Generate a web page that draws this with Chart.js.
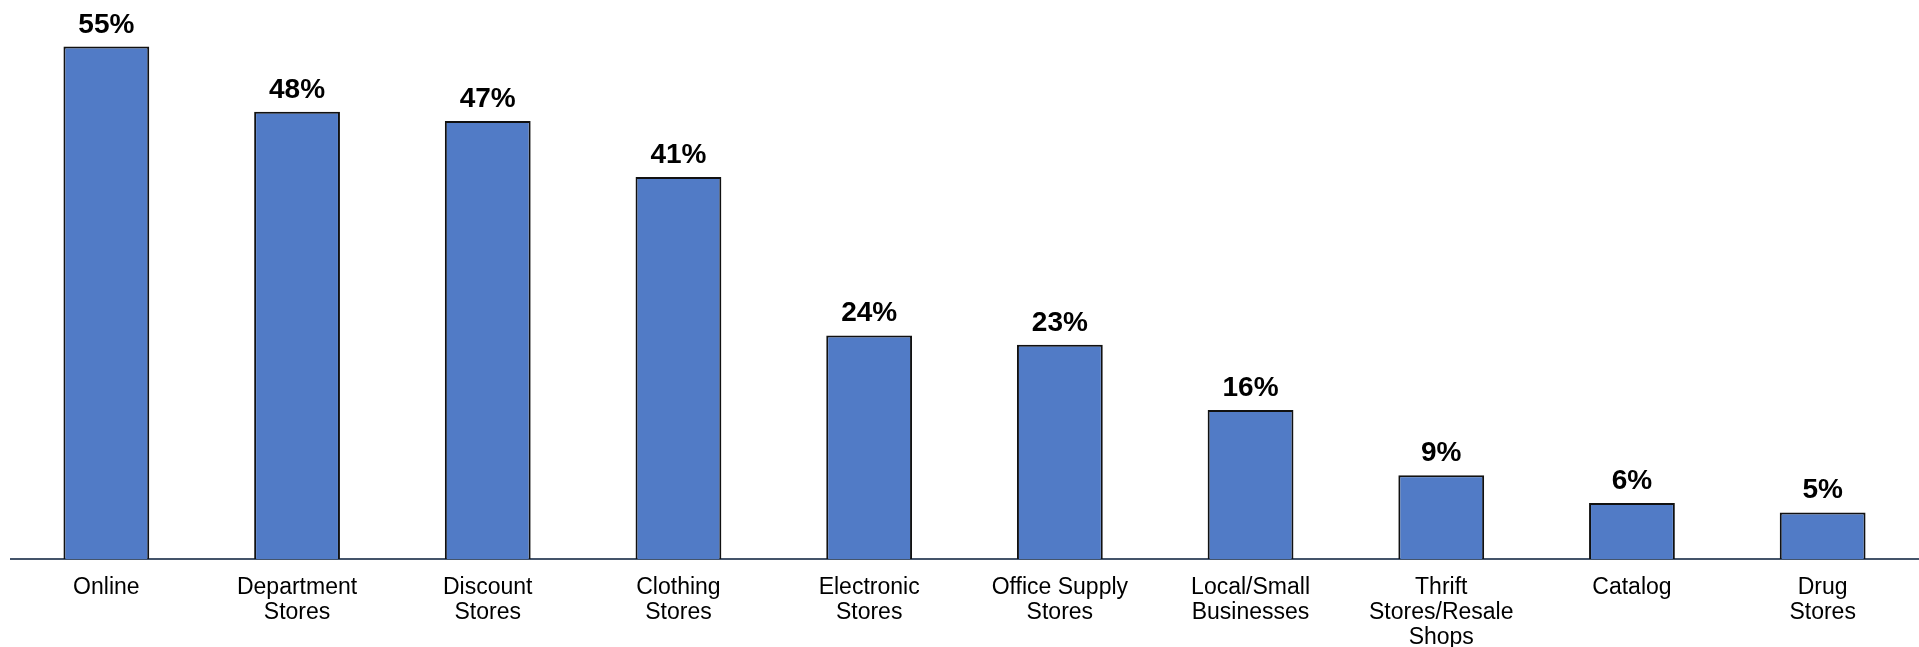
<!DOCTYPE html>
<html>
<head>
<meta charset="utf-8">
<title>Where shoppers buy</title>
<script src="https://cdn.jsdelivr.net/npm/chart.js@4/dist/chart.umd.min.js"></script>
<style>
  html, body { margin: 0; padding: 0; background: #fff; }
  #wrap { width: 1919px; height: 647px; position: relative; }
</style>
</head>
<body>
<div id="wrap"><canvas id="chartTiendas"></canvas></div>
<script>
const categorias = [
    'Online',
    ['Department', 'Stores'],
    ['Discount', 'Stores'],
    ['Clothing', 'Stores'],
    ['Electronic', 'Stores'],
    ['Office Supply', 'Stores'],
    ['Local/Small', 'Businesses'],
    ['Thrift', 'Stores/Resale', 'Shops'],
    'Catalog',
    ['Drug', 'Stores']
];
const porcentajes = [55, 48, 47, 41, 24, 23, 16, 9, 6, 5];

const FUENTE = '"Liberation Sans", Arial, sans-serif';

// writes "NN%" above each bar
const etiquetasValor = {
    id: 'etiquetasValor',
    afterDatasetsDraw(chart) {
        const ctx = chart.ctx;
        const meta = chart.getDatasetMeta(0);
        ctx.save();
        ctx.font = 'bold 28px ' + FUENTE;
        ctx.fillStyle = '#000';
        ctx.textAlign = 'center';
        ctx.textBaseline = 'alphabetic';
        meta.data.forEach((bar, i) => {
            ctx.fillText(porcentajes[i] + '%', bar.x, bar.y - 14);
        });
        ctx.restore();
    }
};

const canvas = document.getElementById('chartTiendas');
const context = canvas.getContext('2d');

const chartTiendas = new Chart(context, {
    type: 'bar',
    data: {
        labels: categorias,
        datasets: [
            {
                label: 'Shoppers',
                data: porcentajes,
                backgroundColor: '#517bc6',
                borderColor: '#111',
                borderWidth: 2,
                barPercentage: 0.45,
                categoryPercentage: 1
            }
        ]
    },
    options: {
        responsive: true,
        maintainAspectRatio: false,
        animation: false,
        layout: {
            padding: { left: 11, right: 1, top: 0, bottom: 0 }
        },
        plugins: {
            legend: { display: false },
            tooltip: { enabled: false }
        },
        scales: {
            x: {
                grid: { display: false, drawTicks: false },
                border: { display: true, color: '#44546a', width: 2 },
                ticks: {
                    color: '#000',
                    padding: 16,
                    maxRotation: 0,
                    autoSkip: false,
                    font: { family: FUENTE, size: 23, lineHeight: 1.087 }
                },
                // keep the axis band a fixed height so the baseline sits at y=559
                afterFit(scale) {
                    scale.height = 88;
                }
            },
            y: {
                display: false,
                min: 0,
                max: 60
            }
        }
    },
    plugins: [etiquetasValor]
});
</script>
</body>
</html>
